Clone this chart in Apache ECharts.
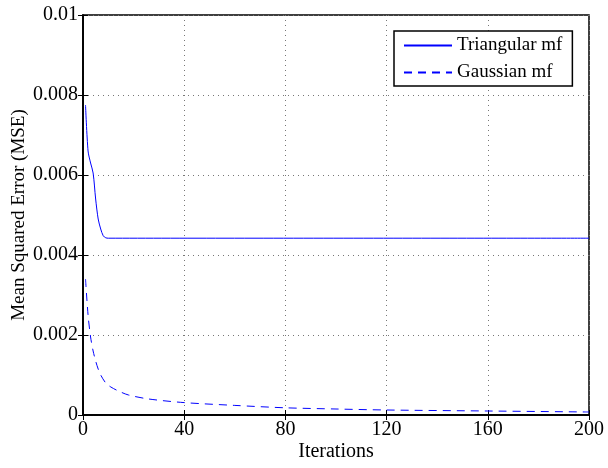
<!DOCTYPE html>
<html>
<head>
<meta charset="utf-8">
<script src="https://cdn.jsdelivr.net/npm/echarts@6/dist/echarts.min.js"></script>
<style>
  html, body { margin: 0; padding: 0; background: #fff; }
  #chart { width: 608px; height: 468px; }
</style>
</head>
<body>
<div id="chart"></div>
<script>
// values
const xTicks = [0, 40, 80, 120, 160, 200]
const triangularX = [1, 2, 3, 4, 5, 6, 7, 8, 9, 10, 200]
const triangularMse = [0.00775, 0.0066, 0.0063, 0.00605, 0.0054, 0.0049, 0.00465, 0.00448, 0.00443, 0.00442, 0.00442]
const gaussianX = [1, 2, 3, 4, 5, 6, 7, 9, 11, 14, 18, 26, 40, 60, 80, 100, 120, 160, 200]
const gaussianMse = [0.0034, 0.0025, 0.00195, 0.0016, 0.00135, 0.00115, 0.001, 0.0008, 0.0007, 0.0006, 0.0005, 0.0004, 0.00031, 0.00024, 0.00018, 0.00015, 0.000125, 0.0001, 0.000075]

const pairs = (xs, ys) => xs.map((x, i) => [x, ys[i]])

const font = 'Liberation Serif'
const chart = echarts.init(document.getElementById('chart'))

const gridLine = { show: true, lineStyle: { color: '#777', type: [1, 4], width: 1 } }
const frame = { color: '#000', width: 1.5 }

chart.setOption({
  animation: false,
  textStyle: { fontFamily: font },
  grid: {
    left: 83, right: 19, top: 15, bottom: 53,
    outerBoundsMode: 'none',
    show: true, borderColor: '#000', borderWidth: 1.5
  },
  legend: {
    orient: 'vertical',
    left: 394, top: 31,
    padding: [5, 10, 4, 9],
    itemGap: 8,
    itemWidth: 48,
    itemHeight: 19,
    backgroundColor: '#fff',
    borderColor: '#000',
    borderWidth: 1.5,
    itemStyle: { opacity: 0 },
    textStyle: { fontFamily: font, fontSize: 19, color: '#000' }
  },
  xAxis: [{
    type: 'value', min: 0, max: 200, interval: 40,
    name: 'Iterations', nameLocation: 'middle', nameGap: 27, nameMoveOverlap: false,
    nameTextStyle: { fontFamily: font, fontSize: 20, color: '#000' },
    axisLine: { lineStyle: frame },
    axisTick: { inside: true, length: 5, lineStyle: { color: '#000' } },
    axisLabel: { fontFamily: font, fontSize: 20, color: '#000', margin: 5,
      formatter: v => xTicks.includes(v) ? String(v) : '' },
    splitLine: gridLine
  }, {
    type: 'value', min: 0, max: 200, interval: 40, position: 'top',
    axisLine: { show: true, lineStyle: frame },
    axisTick: { inside: true, length: 5, lineStyle: { color: '#000' } },
    axisLabel: { show: false }, splitLine: { show: false }
  }],
  yAxis: [{
    type: 'value', min: 0, max: 0.01, interval: 0.002,
    name: 'Mean Squared Error (MSE)', nameLocation: 'middle', nameGap: 54, nameMoveOverlap: false,
    nameTextStyle: { fontFamily: font, fontSize: 19, color: '#000' },
    axisLine: { show: true, lineStyle: frame },
    axisTick: { inside: true, length: 5, lineStyle: { color: '#000' } },
    axisLabel: { fontFamily: font, fontSize: 20, color: '#000', margin: 5,
      formatter: v => v === 0 ? '0' : +v.toFixed(3) + '' },
    splitLine: gridLine
  }, {
    type: 'value', min: 0, max: 0.01, interval: 0.002, position: 'right',
    axisLine: { show: true, lineStyle: frame },
    axisTick: { show: true, inside: true, length: 5, lineStyle: { color: '#000' } },
    axisLabel: { show: false }, splitLine: { show: false }
  }],
  series: [{
    name: 'Triangular mf',
    type: 'line',
    data: pairs(triangularX, triangularMse),
    symbol: 'none',
    smooth: 0.3,
    lineStyle: { color: '#0000ff', width: 1 },
    itemStyle: { color: '#0000ff' }
  }, {
    name: 'Gaussian mf',
    type: 'line',
    data: pairs(gaussianX, gaussianMse),
    symbol: 'none',
    smooth: 0.3,
    lineStyle: { color: '#0000ff', width: 1, type: [8, 6] },
    itemStyle: { color: '#0000ff' }
  }]
})
</script>
</body>
</html>
